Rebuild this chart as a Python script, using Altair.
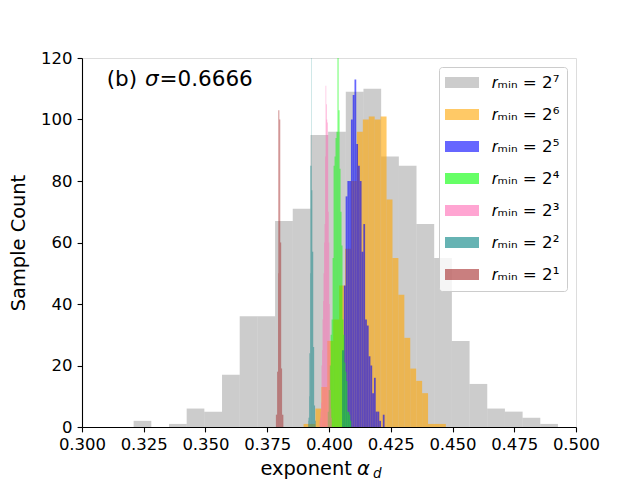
import altair as alt
import numpy as np
import pandas as pd

# ---- data ----
labels = ["𝑟ₘᵢₙ = 2⁷", "𝑟ₘᵢₙ = 2⁶", "𝑟ₘᵢₙ = 2⁵", "𝑟ₘᵢₙ = 2⁴",
          "𝑟ₘᵢₙ = 2³", "𝑟ₘᵢₙ = 2²", "𝑟ₘᵢₙ = 2¹"]
colors = ["rgba(128,128,128,0.4)", "rgba(255,165,0,0.6)", "rgba(0,0,255,0.6)",
          "rgba(0,255,0,0.6)", "rgba(255,105,180,0.6)", "rgba(0,128,128,0.6)",
          "rgba(165,42,42,0.6)"]

lo_7, hi_7 = 0.3209, 0.4927
counts_7 = [2, 0, 1, 6, 5, 17, 36, 36, 67, 71, 95, 96, 109, 110, 88, 85, 66, 55, 28, 14, 6, 5, 3, 1]
lo_6, hi_6 = 0.3897, 0.4473
counts_6 = [1, 1, 6, 13, 28, 35, 46, 58, 80, 96, 100, 101, 100, 101, 74, 55, 43, 29, 19, 15, 11, 1, 1, 1]
lo_5, hi_5 = 0.4053, 0.4225
counts_5 = [25, 46, 75, 80, 80, 100, 108, 113, 92, 85, 80, 57, 66, 35, 33, 23, 20, 11, 16, 5, 5, 2, 0, 4]
lo_4, hi_4 = 0.3995, 0.4090
counts_4 = [5, 12, 20, 30, 35, 55, 85, 88, 94, 96, 130, 103, 84, 70, 59, 35, 30, 21, 18, 15, 5, 5, 4, 2]
lo_3, hi_3 = 0.3962, 0.4011
counts_3 = [2, 3, 5, 8, 20, 25, 35, 41, 50, 60, 66, 88, 111, 105, 100, 99, 95, 70, 60, 40, 25, 12, 6, 3]
lo_2, hi_2 = 0.3916, 0.3946
counts_2 = [2, 3, 3, 10, 24, 24, 50, 85, 85, 85, 130, 77, 77, 57, 57, 57, 26, 26, 26, 7, 7, 7, 2, 2]
lo_1, hi_1 = 0.3785, 0.3815
counts_1 = [4, 4, 4, 4, 18, 18, 18, 50, 103, 103, 103, 100, 100, 100, 60, 60, 60, 19, 19, 19, 4, 4, 4, 4]

x_ticks = [0.300, 0.325, 0.350, 0.375, 0.400, 0.425, 0.450, 0.475, 0.500]
y_ticks = [0, 20, 40, 60, 80, 100, 120]

series = [(lo_7, hi_7, counts_7), (lo_6, hi_6, counts_6), (lo_5, hi_5, counts_5),
          (lo_4, hi_4, counts_4), (lo_3, hi_3, counts_3), (lo_2, hi_2, counts_2),
          (lo_1, hi_1, counts_1)]

rows = []
for lab, (lo, hi, cnt) in zip(labels, series):
    edges = np.linspace(lo, hi, len(cnt) + 1)
    for i, c in enumerate(cnt):
        if c > 0:
            rows.append({"series": lab, "x0": edges[i], "x1": edges[i + 1],
                         "count": c, "base": 0})
df = pd.DataFrame(rows)

FONT = "DejaVu Sans"

hist = alt.Chart(df).mark_rect(clip=True).encode(
    x=alt.X("x0:Q", scale=alt.Scale(domain=[0.3, 0.5], nice=False, zero=False),
            axis=alt.Axis(values=x_ticks, format=".3f", title=None, grid=False,
                          labelFontSize=16.5, tickSize=4.9, tickWidth=1.1,
                          domainWidth=1.1, labelPadding=4.5,
                          tickColor="black", domainColor="black", labelColor="black",
                          labelFont=FONT, labelFlush=False, labelOverlap=False)),
    x2="x1:Q",
    y=alt.Y("count:Q", scale=alt.Scale(domain=[0, 120], nice=False),
            axis=alt.Axis(values=y_ticks, title="Sample Count", grid=False,
                          labelFontSize=16.5, tickSize=4.9, tickWidth=1.1,
                          domainWidth=1.1, labelPadding=5,
                          tickColor="black", domainColor="black", labelColor="black",
                          labelFont=FONT, titleFont=FONT, titleFontSize=19.4,
                          titleFontWeight="normal", titleColor="black",
                          titlePadding=12, labelFlush=False)),
    y2="base:Q",
    color=alt.Color("series:N", sort=labels,
                    scale=alt.Scale(domain=labels, range=colors),
                    legend=alt.Legend(title=None, orient="top-right", offset=9,
                                      padding=7, fillColor="rgba(255,255,255,0.8)",
                                      strokeColor="#cccccc", cornerRadius=3,
                                      symbolType="M-2,-0.66H2V0.66H-2Z",
                                      symbolSize=289, symbolStrokeWidth=0,
                                      symbolOffset=7.5,
                                      labelFontSize=16.7, labelFont=FONT,
                                      labelColor="black", rowPadding=14,
                                      labelOffset=21)),
)

def txt(s, x, y, size, style="normal", align="left"):
    return alt.Chart(pd.DataFrame({"t": [s]})).mark_text(
        align=align, baseline="alphabetic", fontSize=size, font=FONT,
        fontStyle=style, color="black").encode(
        text="t:N", x=alt.value(x), y=alt.value(y))

texts = [
    txt("(b) ", 24.7, 28, 21.5),
    txt("σ", 63, 28, 21.5, "italic"),
    txt("=0.6666", 77.5, 28, 21.5),
    txt("exponent", 178.5, 416.5, 19.4),
    txt("α", 275, 416.5, 19.4, "italic"),
    txt("d", 291, 419.5, 13.5, "italic"),
]

chart = alt.layer(hist, *texts).properties(
    width=494, height=369,
    autosize=alt.AutoSizeParams(type="none"),
    padding={"left": 74, "top": 50, "right": 56, "bottom": 53},
).configure_view(stroke="black", strokeWidth=1.1).configure(font=FONT)

chart.save("out.html", embed_options={"renderer": "svg", "actions": False})
